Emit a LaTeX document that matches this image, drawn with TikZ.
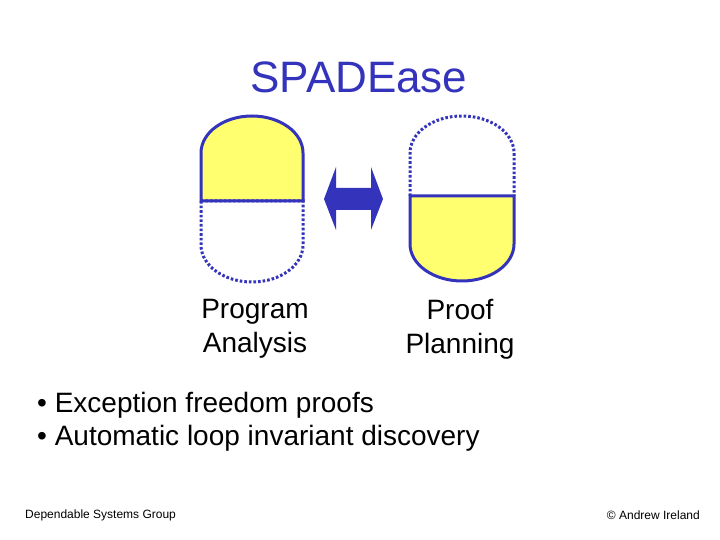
\documentclass[tikz,border=0pt]{standalone}
\usepackage{fontspec}
\setmainfont{Liberation Sans}
\begin{document}
\begin{tikzpicture}[x=1pt,y=1pt]
\definecolor{bl}{RGB}{51,51,187}
\definecolor{yl}{RGB}{255,255,112}
\tikzset{solidp/.style={draw=bl,line width=3pt,fill=yl},
 dotp/.style={draw=bl,line width=3pt,dash pattern=on 2.6pt off 2pt},
 txt/.style={inner sep=0pt,font=\fontsize{28}{34}\selectfont,align=center}}
\useasboundingbox (0,0) rectangle (720,540);
\node[inner sep=0pt,text=bl,font=\fontsize{44}{50}\selectfont] (title) at (359,463) {SPADEase};
% left capsule
\draw[solidp] (201,339) -- (201,387) arc[start angle=180,end angle=0,x radius=51,y radius=37] -- (303,339) -- cycle;
\draw[dotp] (201,339) -- (201,295) arc[start angle=180,end angle=360,x radius=51,y radius=37] -- (303,339) -- cycle;
% right capsule
\draw[solidp] (410,344) -- (410,296) arc[start angle=180,end angle=360,x radius=52,y radius=37] -- (514,344) -- cycle;
\draw[dotp] (410,344) -- (410,387) arc[start angle=180,end angle=0,x radius=52,y radius=37] -- (514,344);
% arrow
\fill[bl] (324,341) -- (336,373) -- (336,352) -- (371,352) -- (371,373) -- (383,341) -- (371,310) -- (371,330) -- (336,330) -- (336,310) -- cycle;
\node[txt] (pa) at (255,211) {Program\\Analysis};
\node[txt] (pp) at (460,211) {Proof\\Planning};
\node[txt,anchor=west,align=left] (b1) at (37,135) {\textbullet\ Exception freedom proofs};
\node[txt,anchor=west,align=left] (b2) at (37,102) {\textbullet\ Automatic loop invariant discovery};
\node[inner sep=0pt,anchor=west,font=\fontsize{12}{14}\selectfont] (f1) at (25,25) {Dependable Systems Group};
\node[inner sep=0pt,anchor=east,font=\fontsize{12}{14}\selectfont] (f2) at (700,25) {\textcopyright\ Andrew Ireland};
\end{tikzpicture}
\end{document}
